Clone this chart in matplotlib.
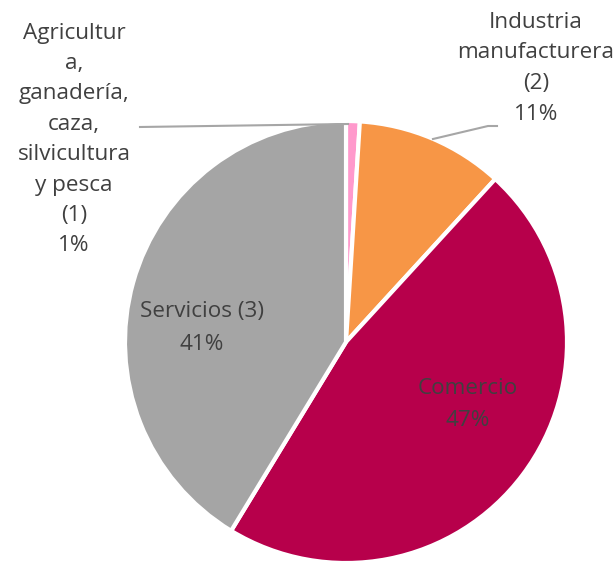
import matplotlib
matplotlib.use("Agg")
import matplotlib.pyplot as plt

categories = ["Agricultura,\nganadería,\ncaza,\nsilvicultura\ny pesca\n(1)",
              "Industria\nmanufacturera\n(2)", "Comercio", "Servicios (3)"]
values = [1.0, 10.8, 46.9, 41.3]
pct_labels = ["1%", "11%", "47%", "41%"]
colors = ["#FF99CC", "#F79646", "#B7004B", "#A5A5A5"]

W, H = 614, 563
plt.rcParams['font.family'] = ['Open Sans', 'DejaVu Sans']
fig = plt.figure(figsize=(W / 100, H / 100), dpi=100)

cx, cy, r = 346, 342, 221
ax = fig.add_axes([(cx - r) / W, (H - cy - r) / H, 2 * r / W, 2 * r / H])
ax.pie(values, colors=colors, startangle=90, counterclock=False,
       wedgeprops=dict(edgecolor="white", linewidth=3), radius=1.0)
ax.set_xlim(-1, 1)
ax.set_ylim(-1, 1)
ax.set_aspect("equal")
ax.axis("off")

def px(x, y):
    return x / W, 1 - y / H

tc = "#404040"
fs = 16.2
# Agricultura label (wrapped as in the reference)
agri_lines = ["Agricultur", "a,", "ganadería,", "caza,", "silvicultura", "y pesca", "(1)", pct_labels[0]]
for i, t in enumerate(agri_lines):
    fig.text(*px(74, 33 + i * 30.4), t, ha="center", va="center", fontsize=fs, color=tc)
ind_lines = ["Industria", "manufacturera", "(2)", pct_labels[1]]
for i, t in enumerate(ind_lines):
    fig.text(*px(536, 22 + i * 31.0), t, ha="center", va="center", fontsize=fs, color=tc)
fig.text(*px(202, 312), "Servicios (3)", ha="center", va="center", fontsize=fs, color=tc)
fig.text(*px(202, 344), pct_labels[3], ha="center", va="center", fontsize=fs, color=tc)
fig.text(*px(468, 389), "Comercio", ha="center", va="center", fontsize=fs, color=tc)
fig.text(*px(468, 420), pct_labels[2], ha="center", va="center", fontsize=fs, color=tc)

# leader lines
lc = "#A6A6A6"
x1, y1 = px(140, 127); x2, y2 = px(348, 124)
fig.add_artist(plt.Line2D([x1, x2], [y1, y2], color=lc, lw=1.5))
xa, ya = px(433, 139); xb, yb = px(488, 126); xc, yc = px(497, 126)
fig.add_artist(plt.Line2D([xa, xb, xc], [ya, yb, yc], color=lc, lw=1.5))

fig.savefig("out.png", dpi=100)
